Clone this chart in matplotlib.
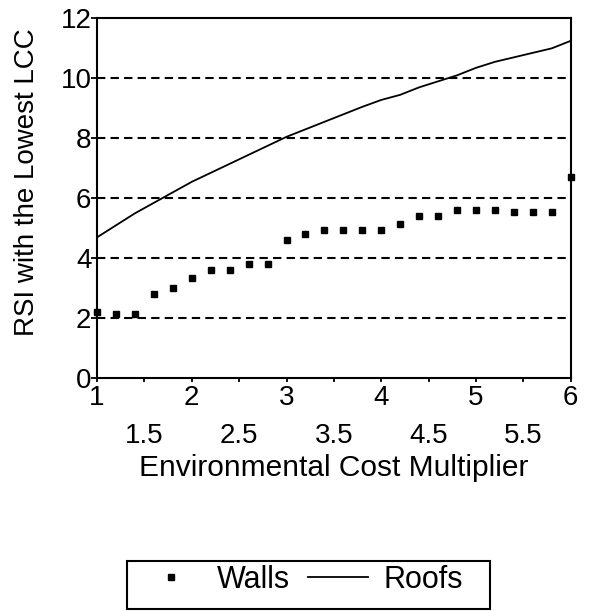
import matplotlib
matplotlib.use("Agg")
import matplotlib.pyplot as plt
from matplotlib.patches import Rectangle
import numpy as np

plt.rcParams['font.family'] = ['Liberation Sans', 'DejaVu Sans']

multiplier = [1.0, 1.2, 1.4, 1.6, 1.8, 2.0, 2.2, 2.4, 2.6, 2.8, 3.0, 3.2, 3.4,
              3.6, 3.8, 4.0, 4.2, 4.4, 4.6, 4.8, 5.0, 5.2, 5.4, 5.6, 5.8, 6.0]
walls = [2.2, 2.15, 2.15, 2.8, 3.0, 3.35, 3.6, 3.6, 3.8, 3.8, 4.6, 4.8, 4.95,
         4.95, 4.95, 4.95, 5.15, 5.4, 5.4, 5.6, 5.6, 5.6, 5.55, 5.55, 5.55, 6.7]
roofs = [4.7, 5.1, 5.5, 5.85, 6.2, 6.55, 6.85, 7.15, 7.45, 7.75, 8.05, 8.3, 8.55,
         8.8, 9.05, 9.28, 9.45, 9.7, 9.9, 10.1, 10.35, 10.55, 10.7, 10.85, 11.0, 11.25]

major_x = [1, 2, 3, 4, 5, 6]
minor_x = [1.5, 2.5, 3.5, 4.5, 5.5]
y_ticks = [0, 2, 4, 6, 8, 10, 12]
grid_y = [2, 4, 6, 8, 10]

fig = plt.figure(figsize=(5.89, 6.11), dpi=100)
ax = fig.add_axes([0.1647, 0.3808, 0.8043, 0.5892])

for g in grid_y:
    ax.axhline(g, color='black', linestyle=(0, (4, 2.5)), linewidth=1.5, zorder=1)

ax.plot(multiplier, walls, linestyle='none', marker='s', markersize=4.5,
        color='black', label='Walls', zorder=3, clip_on=False)
ax.plot(multiplier, roofs, color='black', linewidth=1.3, label='Roofs', zorder=3)

ax.set_xlim(1, 6)
ax.set_ylim(0, 12)
ax.set_xticks(major_x)
ax.set_xticklabels([str(v) for v in major_x])
ax.set_xticks(minor_x, minor=True)
ax.set_xticklabels([str(v) for v in minor_x], minor=True)
ax.set_yticks(y_ticks)
ax.set_yticklabels([str(v) for v in y_ticks])

for s in ax.spines.values():
    s.set_linewidth(1.5)

ax.tick_params(axis='x', which='major', direction='out', length=3, width=1.3,
               pad=2, labelsize=20)
ax.tick_params(axis='x', which='minor', direction='out', length=3, width=1.3,
               pad=29, labelsize=20)
ax.tick_params(axis='y', direction='inout', length=8, width=1.3, pad=0, labelsize=20)

ax.set_xlabel('Environmental Cost Multiplier', fontsize=21.5, labelpad=4)
ax.set_ylabel('RSI with the Lowest LCC', fontsize=20)
ax.yaxis.set_label_coords(-0.121, 0.544)

leg = fig.legend(loc='center left', bbox_to_anchor=(0.2394, 0.051),
                 ncol=2, numpoints=1, fontsize=22, frameon=False,
                 handlelength=1.96, handletextpad=0.52, columnspacing=0.59,
                 borderaxespad=0, borderpad=0)
fig.add_artist(Rectangle((0.2156, 0.0033), 0.6163, 0.0786, transform=fig.transFigure,
                         fill=False, edgecolor='black', linewidth=1.5))

fig.savefig('out.png', dpi=100)
